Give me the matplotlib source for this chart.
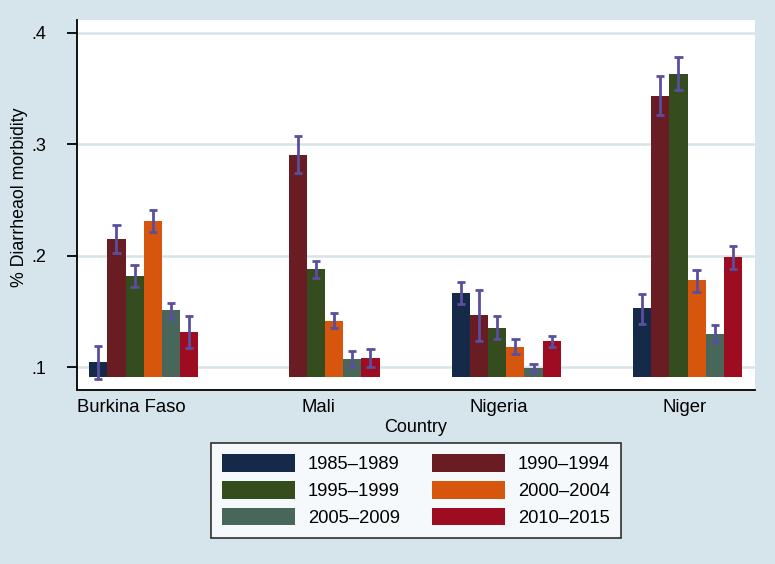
import numpy as np
import matplotlib
matplotlib.use("Agg")
import matplotlib.pyplot as plt

plt.rcParams['font.family'] = ['Liberation Sans', 'DejaVu Sans']

# data
countries = ["Burkina Faso", "Mali", "Nigeria", "Niger"]
periods = ["1985\u20131989", "1990\u20131994", "1995\u20131999",
           "2000\u20132004", "2005\u20132009", "2010\u20132015"]

# mean per period, one list per period (order = countries)
p1985 = [0.1045, np.nan, 0.1667, 0.1529]
p1990 = [0.2154, 0.2908, 0.1466, 0.3437]
p1995 = [0.1816, 0.1879, 0.1356, 0.3634]
p2000 = [0.2312, 0.1419, 0.1185, 0.1780]
p2005 = [0.1510, 0.1072, 0.0994, 0.1302]
p2010 = [0.1317, 0.1087, 0.1236, 0.1987]

# confidence interval bounds
lo1985 = [0.0899, np.nan, 0.1565, 0.1386]
hi1985 = [0.1188, np.nan, 0.1765, 0.1661]
lo1990 = [0.2025, 0.2743, 0.1236, 0.3260]
hi1990 = [0.2280, 0.3074, 0.1697, 0.3610]
lo1995 = [0.1720, 0.1804, 0.1254, 0.3484]
hi1995 = [0.1915, 0.1957, 0.1457, 0.3783]
lo2000 = [0.2210, 0.1353, 0.1117, 0.1679]
hi2000 = [0.2408, 0.1487, 0.1251, 0.1876]
lo2005 = [0.1433, 0.1003, 0.0958, 0.1224]
hi2005 = [0.1580, 0.1143, 0.1030, 0.1377]
lo2010 = [0.1177, 0.1003, 0.1182, 0.1879]
hi2010 = [0.1457, 0.1168, 0.1284, 0.2088]

means = [p1985, p1990, p1995, p2000, p2005, p2010]
lows = [lo1985, lo1990, lo1995, lo2000, lo2005, lo2010]
highs = [hi1985, hi1990, hi1995, hi2000, hi2005, hi2010]

colors = ["#142A48", "#691D22", "#344C1E", "#D6560E", "#49665B", "#9E0C22"]
bg = "#D6E5EC"
base = 0.091

fig = plt.figure(figsize=(7.75, 5.64), dpi=100, facecolor=bg)
ax = fig.add_axes([77/775, 1 - 389.5/564, (755-77)/775, (389.5-20)/564])
ax.set_facecolor("white")

w = 0.1004
x = np.arange(len(countries))
for k in range(len(periods)):
    xs = x + (k - 2.5) * w
    m = np.array(means[k])
    ax.bar(xs, m - base, width=w, bottom=base, color=colors[k],
           label=periods[k], zorder=2, linewidth=0)
    ax.vlines(xs, lows[k], highs[k], color="#5A4E9E", linewidth=2, zorder=3)
    ax.hlines(lows[k], xs - 0.023, xs + 0.023, color="#5A4E9E", linewidth=2, zorder=3)
    ax.hlines(highs[k], xs - 0.023, xs + 0.023, color="#5A4E9E", linewidth=2, zorder=3)

ax.set_xlim(-0.368, 3.372)
ax.set_ylim(0.0801, 0.4114)
ax.set_yticks([0.1, 0.2, 0.3, 0.4])
ax.set_yticklabels([".1", ".2", ".3", ".4"])
ax.yaxis.grid(True, color="#D6E4EA", linewidth=1.8, zorder=0)
ax.set_axisbelow(True)

label_nudge = np.array([-0.066, -0.036, -0.039, -0.018])
ax.set_xticks(x + label_nudge)
ax.set_xticklabels(countries)
ax.tick_params(axis="x", length=0, pad=7, labelsize=13.3)
ax.tick_params(axis="y", length=7, width=1.3, pad=15, labelsize=13, direction="out")

for s in ["top", "right"]:
    ax.spines[s].set_visible(False)
ax.spines["left"].set_linewidth(1.3)
ax.spines["bottom"].set_linewidth(1.3)

ax.set_ylabel("% Diarrheaol morbidity", fontsize=12.8)
ax.yaxis.set_label_coords(-0.072, 0.52)
ax.set_xlabel("Country", fontsize=13, labelpad=2)

# legend in column order of the reference (row-wise pairs)
handles, labels = ax.get_legend_handles_labels()
order = [0, 2, 4, 1, 3, 5]
leg = fig.legend([handles[i] for i in order], [labels[i] for i in order],
                 loc="center", bbox_to_anchor=(415.9/775, 1 - 490.5/564),
                 ncol=2, fontsize=13.2, frameon=True, fancybox=False,
                 edgecolor="black", handlelength=4.0, handleheight=1.1,
                 handletextpad=0.7, columnspacing=1.75, labelspacing=0.42,
                 borderpad=0.6)
leg.get_frame().set_linewidth(1.2)

fig.savefig("out.png", dpi=100, facecolor=bg)
